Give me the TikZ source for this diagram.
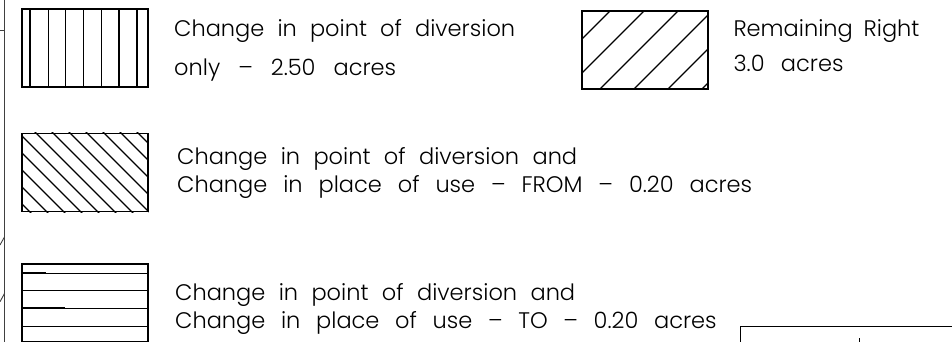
\documentclass[tikz,border=0pt]{standalone}
\usepackage{fontspec}
\newfontfamily\legfont{Poppins}[UprightFont={* Light}]
\begin{document}
\begin{tikzpicture}[x=1pt,y=-1pt,
  legbox/.style={draw, line width=1.2pt, minimum width=126pt, minimum height=78pt, inner sep=0pt, anchor=center},
  hatch/.style={line width=1.1pt},
  frame/.style={line width=0.9pt, black!75},
  legtext/.style={anchor=base west, inner sep=0pt, font=\legfont\fontsize{22.5}{23}\selectfont}]
\useasboundingbox (0,0) rectangle (952,341);
\fill[white] (0,0) rectangle (952,341);

% map remnants at the left edge
\draw[frame] (4.6,-2) -- (4.6,343);
\draw[frame] (0,30.5) -- (4.6,30.5);
\draw[frame] (0,245) -- (4.6,236.7);
\draw[frame] (0,301.7) -- (4.6,293.3);

% bottom right frame
\draw[line width=1.2pt] (740.7,345) -- (740.7,326.7) -- (955,326.7);
\draw[line width=1pt] (859,338.3) -- (859,343);

% legend boxes
\node[legbox] (b1) at (85,48) {};
\node[legbox] (b4) at (645,50) {};
\node[legbox] (b2) at (85,172.4) {};
\node[legbox] (b3) at (85,303) {};

% box 1: vertical lines
\begin{scope}
\clip (b1.north west) rectangle (b1.south east);
\foreach \xx in {30,48.3,65.7,83.3,101.7,119,137}
  \draw[hatch] (\xx,0) -- (\xx,100);
\end{scope}

% box 2: back diagonals
\begin{scope}
\clip (b2.north west) rectangle (b2.south east);
\foreach \k in {0,...,11}
  \draw[hatch] ({5-17*\k+100},100) -- ({5-17*\k+250},250);
\end{scope}

% box 3: horizontal lines
\begin{scope}
\clip (b3.north west) rectangle (b3.south east);
\foreach \yy in {273.3,290.7,308.3,326.7}
  \draw[hatch] (0,\yy) -- (200,\yy);
\draw[line width=1pt] (22,272.8) -- (45.7,272.8);
\draw[line width=1pt] (22,290.2) -- (115,290.2);
\draw[line width=1pt] (22,307.8) -- (65,307.8);
\draw[line width=1pt] (147,264) -- (147,291);
\end{scope}

% box 4: forward diagonals
\begin{scope}
\clip (b4.north west) rectangle (b4.south east);
\foreach \k in {0,...,5}
  \draw[hatch] ({621+34*\k},0) -- ({621+34*\k-120},120);
\end{scope}

% texts
\node[legtext] (t1a) at (174,36.7) {\makebox[341pt][s]{Change in point of diversion}};
\node[legtext] (t1b) at (174,75) {\makebox[222pt][s]{only – 2.50 acres}};
\node[legtext] (t4a) at (733.3,36) {\makebox[186pt][s]{Remaining Right}};
\node[legtext] (t4b) at (733.3,71) {\makebox[110pt][s]{3.0 acres}};
\node[legtext] (t2a) at (177,164.3) {\makebox[400pt][s]{Change in point of diversion and}};
\node[legtext] (t2b) at (177,192.7) {\makebox[575pt][s]{Change in place of use – FROM – 0.20 acres}};
\node[legtext] (t3a) at (175,300.7) {\makebox[400pt][s]{Change in point of diversion and}};
\node[legtext] (t3b) at (175,328.3) {\makebox[541.5pt][s]{Change in place of use – TO – 0.20 acres}};
\end{tikzpicture}
\end{document}
